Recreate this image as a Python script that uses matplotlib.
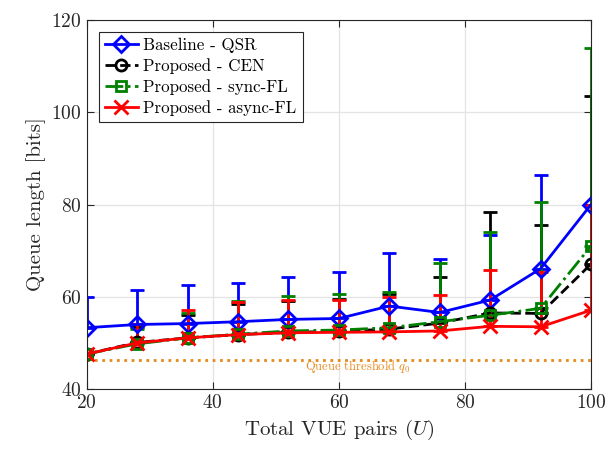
import numpy as np
import matplotlib
matplotlib.use("Agg")
import matplotlib.pyplot as plt

# 数据
users = [20, 28, 36, 44, 52, 60, 68, 76, 84, 92, 100]
qsr = [53.3, 54.0, 54.2, 54.6, 55.1, 55.3, 58.0, 56.6, 59.3, 66.1, 80.0]
qsr_top = [60.0, 61.5, 62.6, 63.0, 64.2, 65.4, 69.6, 68.2, 73.5, 86.5, 80.0]
cen = [47.6, 50.1, 51.1, 51.8, 52.3, 52.5, 53.0, 54.3, 56.5, 56.4, 67.1]
cen_top = [47.6, 53.5, 56.0, 58.5, 59.0, 59.5, 60.5, 64.2, 78.3, 75.5, 103.5]
sync_fl = [47.6, 49.8, 51.1, 51.9, 52.6, 52.8, 53.3, 54.6, 56.0, 57.5, 71.0]
sync_top = [47.6, 53.0, 56.5, 59.1, 60.2, 60.5, 61.1, 67.4, 74.1, 80.5, 114.0]
async_fl = [47.6, 50.0, 51.1, 51.8, 52.2, 52.3, 52.4, 52.6, 53.6, 53.5, 57.1]
async_top = [47.6, 54.0, 57.1, 58.9, 59.3, 59.4, 60.0, 60.4, 65.8, 65.4, 80.0]
q0 = 46.3

plt.rcParams["font.family"] = "serif"
plt.rcParams["font.serif"] = ["cmr10", "DejaVu Serif"]
plt.rcParams["mathtext.fontset"] = "cm"
plt.rcParams["axes.formatter.use_mathtext"] = True

fig = plt.figure(figsize=(6.15, 4.54), dpi=100)
ax = fig.add_axes([0.141, 0.143, 0.820, 0.813])

series = [
    (qsr, qsr_top, "blue", "-", "D", 8, "Baseline - QSR"),
    (cen, cen_top, "black", "--", "o", 8, "Proposed - CEN"),
    (sync_fl, sync_top, "green", "-.", "s", 7, "Proposed - sync-FL"),
    (async_fl, async_top, "red", "-", "x", 10, "Proposed - async-FL"),
]
handles = []
for vals, tops, col, ls, mk, ms, lab in series:
    vals = np.array(vals)
    upper = np.array(tops) - vals
    err = np.vstack([np.zeros_like(upper), upper])
    c = ax.errorbar(users, vals, yerr=err, color=col, linestyle=ls, marker=mk,
                    markersize=ms, markerfacecolor="none", markeredgewidth=2,
                    linewidth=2, elinewidth=2, capsize=5, capthick=2, label=lab)
    handles.append(c.lines[0])

ax.axhline(q0, color="#E8891C", linestyle=":", linewidth=2)
ax.text(63, 44.8, "Queue threshold $q_0$", color="#E8891C", fontsize=9,
        ha="center", va="center")

ax.set_xlim(20, 100)
ax.set_ylim(40, 120)
ax.set_xticks([20, 40, 60, 80, 100])
ax.set_yticks([40, 60, 80, 100, 120])
ax.tick_params(direction="in", top=True, right=True, labelsize=14, colors="#262626", length=5)
for sp in ax.spines.values():
    sp.set_color("#262626")
ax.grid(color="#e3e3e3", linewidth=0.9)
ax.set_axisbelow(True)
ax.set_xlabel("Total VUE pairs ($U$)", fontsize=15, color="#262626")
ax.set_ylabel("Queue length [bits]", fontsize=15, color="#262626")

leg = ax.legend(handles=handles, labels=[s[-1] for s in series], loc="upper left",
                fontsize=12.2, fancybox=False, framealpha=1,
                edgecolor="#262626", handlelength=2.0, handletextpad=0.3,
                borderpad=0.35, labelspacing=0.3, borderaxespad=0.7)
leg.get_frame().set_linewidth(0.8)

fig.savefig("out.png", dpi=100)
